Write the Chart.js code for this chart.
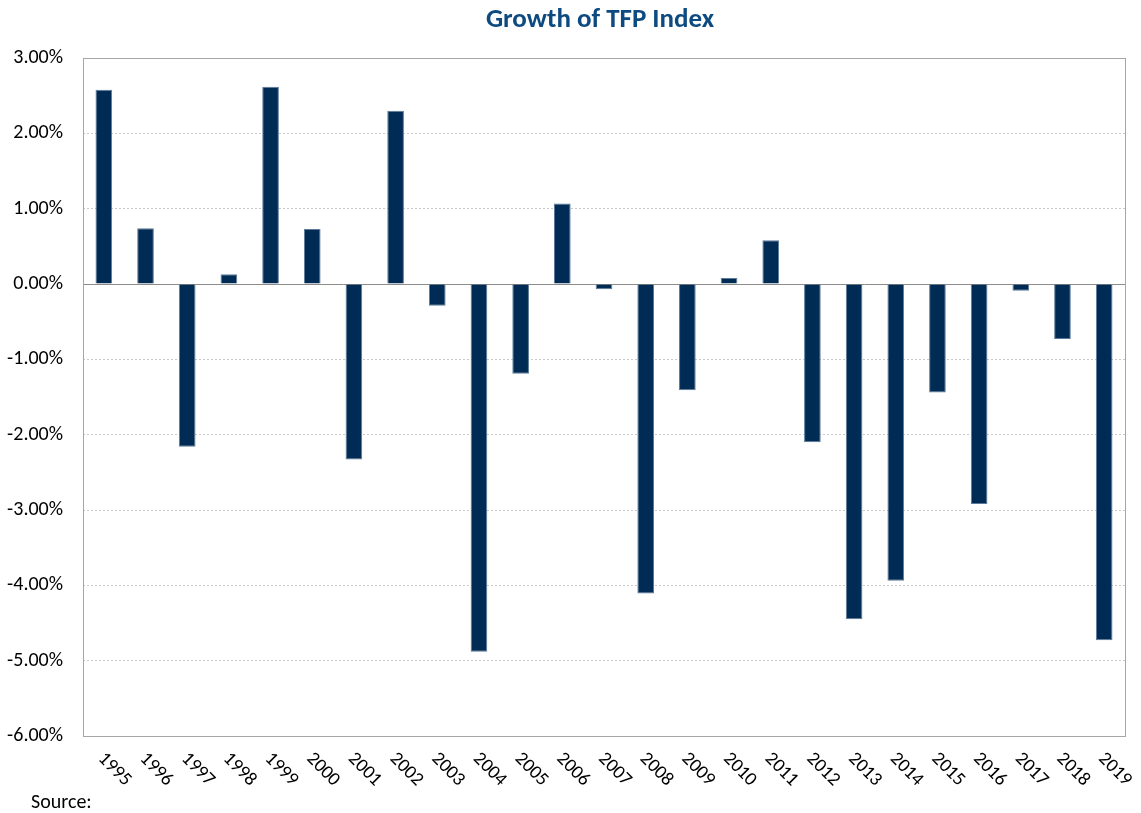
<!DOCTYPE html>
<html>
<head>
<meta charset="utf-8">
<script src="https://cdn.jsdelivr.net/npm/chart.js@4"></script>
<style>
  html, body { margin: 0; padding: 0; background: #fff; }
  #wrap { width: 1141px; height: 813px; }
</style>
</head>
<body>
<div id="wrap"><canvas id="tfpChart" width="1141" height="813"></canvas></div>
<script>
// data
const years = ['1995', '1996', '1997', '1998', '1999', '2000', '2001', '2002', '2003', '2004',
	'2005', '2006', '2007', '2008', '2009', '2010', '2011', '2012', '2013', '2014',
	'2015', '2016', '2017', '2018', '2019'];
const tfpGrowth = [2.58, 0.74, -2.16, 0.13, 2.62, 0.73, -2.33, 2.30, -0.29, -4.88,
	-1.19, 1.07, -0.07, -4.11, -1.41, 0.08, 0.58, -2.10, -4.45, -3.94,
	-1.44, -2.92, -0.09, -0.73, -4.73];
const yTicks = [3, 2, 1, 0, -1, -2, -3, -4, -5, -6];

const chartTitle = 'Growth of TFP Index';
const sourceNote = 'Source:';
const fontFamily = 'Carlito, Calibri, Lato, sans-serif';

// frame, zero line, rotated year labels, title and source note
const extras = {
	id: 'extras',
	beforeDatasetsDraw(chart) {
		const { ctx, chartArea, scales } = chart;
		const y0 = Math.round(scales.y.getPixelForValue(0)) + 0.5;
		ctx.save();
		ctx.strokeStyle = '#8c8c8c';
		ctx.lineWidth = 1;
		ctx.beginPath();
		ctx.moveTo(chartArea.left, y0);
		ctx.lineTo(chartArea.right, y0);
		ctx.stroke();
		ctx.restore();
	},
	afterDraw(chart) {
		const { ctx, chartArea, scales } = chart;
		ctx.save();
		ctx.strokeStyle = '#a6a6a6';
		ctx.lineWidth = 1;
		ctx.strokeRect(Math.round(chartArea.left) + 0.5, Math.round(chartArea.top) + 0.5,
			Math.round(chartArea.right - chartArea.left), Math.round(chartArea.bottom - chartArea.top));

		ctx.fillStyle = '#000';
		ctx.font = '19px ' + fontFamily;
		ctx.textAlign = 'left';
		ctx.textBaseline = 'middle';
		years.forEach((yr, i) => {
			const x = scales.x.getPixelForTick(i);
			ctx.save();
			ctx.translate(x - 3, chartArea.bottom + 20);
			ctx.rotate(Math.PI / 4);
			ctx.fillText(yr, 0, 0);
			ctx.restore();
		});

		ctx.fillStyle = '#0c4a80';
		ctx.font = 'bold 27px ' + fontFamily;
		ctx.textAlign = 'center';
		ctx.fillText(chartTitle, 600, 20);

		ctx.fillStyle = '#000';
		ctx.font = '20px ' + fontFamily;
		ctx.textAlign = 'left';
		ctx.fillText(sourceNote, 31, 803);
		ctx.restore();
	}
};

const ctx = document.getElementById('tfpChart');
const tfpChart = new Chart(ctx, {
	type: 'bar',
	data: {
		labels: years,
		datasets: [{
			data: tfpGrowth,
			backgroundColor: '#002b55',
			borderColor: '#5d7b99',
			borderWidth: 1,
			categoryPercentage: 1,
			barPercentage: 0.4
		}]
	},
	options: {
		responsive: false,
		animation: false,
		layout: { padding: { top: 58, right: 16, bottom: 0, left: 0 } },
		plugins: {
			legend: { display: false },
			tooltip: { enabled: false },
			title: { display: false }
		},
		scales: {
			x: {
				grid: { display: false },
				border: { display: false },
				ticks: { display: false },
				afterFit(scale) { scale.height = 77; }
			},
			y: {
				min: -6,
				max: 3,
				afterFit(scale) { scale.width = 83; },
				afterBuildTicks(scale) { scale.ticks = yTicks.map(v => ({ value: v })); },
				grid: {
					drawTicks: false,
					color: c => (c.tick && c.tick.value === 0) ? 'rgba(0,0,0,0)' : '#c8c8c8',
					lineWidth: 1
				},
				border: { display: false, dash: [2, 2] },
				ticks: {
					padding: 20,
					color: '#000',
					font: { family: fontFamily, size: 20 },
					callback: v => v.toFixed(2) + '%'
				}
			}
		}
	},
	plugins: [extras]
});
</script>
</body>
</html>
